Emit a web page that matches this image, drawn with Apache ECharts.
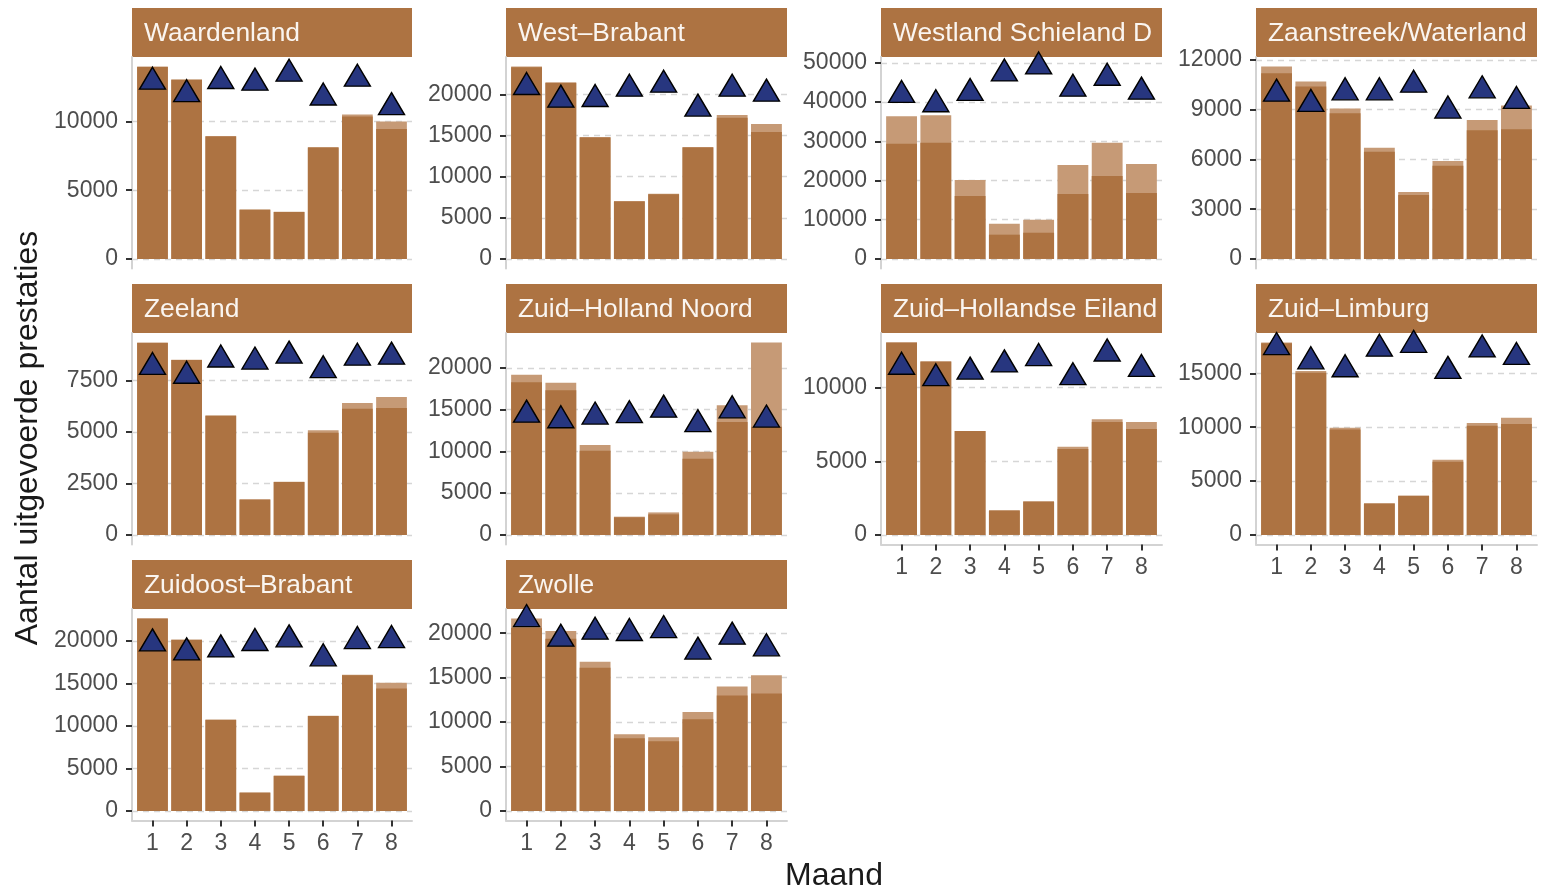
<!DOCTYPE html>
<html>
<head>
<meta charset="utf-8">
<script src="https://cdn.jsdelivr.net/npm/echarts@6/dist/echarts.min.js"></script>
<style>
  html, body { margin: 0; padding: 0; background: #ffffff; }
  #chart { width: 1546px; height: 894px; }
</style>
</head>
<body>
<div id="chart"></div>
<script>
// Maanden op de x-as
const maanden = [1, 2, 3, 4, 5, 6, 7, 8];

// Regio's (één paneel per regio)
const regios = [
  'Waardenland', 'West–Brabant', 'Westland Schieland Delfland', 'Zaanstreek/Waterland',
  'Zeeland', 'Zuid–Holland Noord', 'Zuid–Hollandse Eilanden', 'Zuid–Limburg',
  'Zuidoost–Brabant', 'Zwolle'
];

// Uitgevoerde prestaties (donkere balk)
const uitgevoerd = [
  [13980, 13040, 8920, 3570, 3420, 8100, 10360, 9450],
  [23300, 21400, 14780, 6980, 7870, 13550, 17170, 15430],
  [29360, 29610, 16070, 6180, 6680, 16580, 21150, 16840],
  [11200, 10400, 8780, 6460, 3860, 5620, 7760, 7820],
  [9330, 8500, 5790, 1720, 2570, 4970, 6130, 6170],
  [18260, 17310, 10060, 2100, 2460, 9110, 13500, 12950],
  [13060, 11770, 7060, 1660, 2270, 5840, 7660, 7190],
  [17800, 15060, 9780, 2920, 3620, 6790, 10140, 10300],
  [22620, 20120, 10720, 2150, 4100, 11150, 15960, 14400],
  [20600, 19360, 16120, 8170, 7840, 10300, 12980, 13210]
];

// Totaal inclusief nagekomen prestaties (lichte balk)
const totaal = [
  [14000, 13060, 8940, 3590, 3430, 8150, 10510, 10000],
  [23390, 21490, 14830, 7030, 7920, 13610, 17490, 16400],
  [36380, 36630, 20130, 8970, 9980, 23940, 29610, 24200],
  [11600, 10700, 9080, 6700, 4040, 5900, 8380, 9260],
  [9350, 8520, 5810, 1720, 2590, 5090, 6410, 6700],
  [19170, 18220, 10770, 2180, 2690, 9940, 15520, 23010],
  [13060, 11770, 7060, 1660, 2270, 5980, 7860, 7660],
  [17860, 15220, 9960, 2920, 3660, 6980, 10390, 10880],
  [22620, 20120, 10720, 2150, 4150, 11190, 16010, 15070],
  [21640, 20260, 16790, 8620, 8280, 11120, 13990, 15260]
];

// Referentiewaarden (driehoeken)
const referentie = [
  [12890, 11980, 12940, 12820, 13470, 11740, 13110, 11040],
  [20890, 19350, 19430, 20680, 21170, 18260, 20680, 20080],
  [41790, 39420, 42300, 47290, 49070, 43400, 46190, 42640],
  [9960, 9340, 10040, 10040, 10500, 8940, 10160, 9520],
  [8160, 7730, 8520, 8420, 8710, 8000, 8610, 8660],
  [14370, 13700, 14140, 14300, 14970, 13230, 14890, 13780],
  [11410, 10630, 11080, 11570, 12000, 10700, 12310, 11260],
  [17430, 16110, 15370, 17280, 17640, 15220, 17210, 16510],
  [19690, 18630, 18980, 19730, 20160, 17930, 19960, 20080],
  [21570, 19360, 20150, 20000, 20330, 17910, 19590, 18280]
];

// Stapgrootte van de y-as per paneel
const tickStap = [5000, 5000, 10000, 3000, 2500, 5000, 5000, 5000, 5000, 5000];

// ---- opmaak ----
const FONT = '"Liberation Sans", Arial, Helvetica, sans-serif';
const BRUIN = '#AD7342';
const LICHTBRUIN = '#C69A76';
const BLAUW = '#27367F';
const kolomLinks = [132, 506, 881, 1256];
const kolomBreedte = [280, 281, 281, 281];
const rijBoven = [8, 284, 560];
const stripHoogte = 49;
const paneelHoogte = 211.5;
const driehoekB = 26, driehoekH = 22;

const grids = [], xAxes = [], yAxes = [], series = [], graphics = [];

regios.forEach((naam, i) => {
  const rij = Math.floor(i / 4), kol = i % 4;
  const left = kolomLinks[kol], width = kolomBreedte[kol];
  const stripTop = rijBoven[rij];
  const top = stripTop + stripHoogte;
  const onderAs = i + 4 >= regios.length;

  grids.push({ left: left, top: top, width: width, height: paneelHoogte, containLabel: false });

  // ggplot-achtige uitbreiding: 5% boven en onder het databereik
  const M = Math.max(...totaal[i], ...referentie[i]);
  const ticks = [];
  for (let v = 0; v <= 1.05 * M; v += tickStap[i]) ticks.push(v);

  xAxes.push({
    gridIndex: i, type: 'value', min: 0.4, max: 8.6,
    axisLine: { show: onderAs, onZero: false, lineStyle: { color: '#D3D3D3', width: 2 } },
    axisTick: { show: onderAs, length: 6, customValues: maanden, lineStyle: { color: '#333333', width: 2 } },
    axisLabel: { show: onderAs, customValues: maanden, margin: 12, fontSize: 23, color: '#4D4D4D', fontFamily: FONT,
                 formatter: v => String(v) },
    splitLine: { show: false }
  });

  yAxes.push({
    gridIndex: i, type: 'value', min: -0.05 * M, max: 1.05 * M,
    axisLine: { show: true, onZero: false, lineStyle: { color: '#D3D3D3', width: 2 } },
    axisTick: { show: true, length: 6, customValues: ticks, lineStyle: { color: '#333333', width: 2 } },
    axisLabel: { show: true, customValues: ticks, margin: 14, fontSize: 23, color: '#4D4D4D', fontFamily: FONT,
                 formatter: v => String(v) },
    splitLine: { show: false }
  });

  const barW = width / 8.2 * 0.9;

  series.push({
    type: 'bar', xAxisIndex: i, yAxisIndex: i, z: 2,
    barWidth: barW, barGap: '-100%',
    itemStyle: { color: LICHTBRUIN },
    data: maanden.map((m, j) => [m, totaal[i][j]]),
    silent: true,
    markLine: {
      z: 1, silent: true, symbol: 'none',
      label: { show: false },
      lineStyle: { color: '#D6D6D6', type: [6, 5], width: 1.3 },
      emphasis: { disabled: true },
      data: ticks.map(v => ({ yAxis: v }))
    }
  });
  series.push({
    type: 'bar', xAxisIndex: i, yAxisIndex: i, z: 3,
    barWidth: barW, barGap: '-100%',
    itemStyle: { color: BRUIN },
    data: maanden.map((m, j) => [m, uitgevoerd[i][j]]),
    silent: true
  });
  series.push({
    type: 'scatter', xAxisIndex: i, yAxisIndex: i, z: 4, clip: false,
    symbol: 'triangle', symbolSize: [driehoekB, driehoekH],
    // zwaartepunt van de driehoek op de datawaarde
    symbolOffset: [0, -driehoekH / 6],
    itemStyle: { color: BLAUW, borderColor: '#000000', borderWidth: 1.4, opacity: 1 },
    data: maanden.map((m, j) => [m, referentie[i][j]]),
    silent: true
  });

  // strooklabel boven het paneel
  graphics.push({
    type: 'rect', z: 0,
    shape: { x: left, y: stripTop, width: width, height: stripHoogte },
    style: { fill: BRUIN }
  });
  graphics.push({
    type: 'text', z: 1,
    x: left + 12, y: stripTop + stripHoogte / 2 + 1.5,
    style: {
      text: naam, fill: '#FAF5F0', font: '26.4px ' + FONT,
      textVerticalAlign: 'middle', textAlign: 'left',
      width: width - 12, overflow: 'truncate', ellipsis: ''
    }
  });
});

// astitels
graphics.push({
  type: 'text', x: 28, y: 438, rotation: Math.PI / 2,
  style: { text: 'Aantal uitgevoerde prestaties', fill: '#1A1A1A', font: '32px ' + FONT,
           textAlign: 'center', textVerticalAlign: 'middle' }
});
graphics.push({
  type: 'text', x: 834, y: 876,
  style: { text: 'Maand', fill: '#1A1A1A', font: '32px ' + FONT,
           textAlign: 'center', textVerticalAlign: 'middle' }
});

const chart = echarts.init(document.getElementById('chart'), null, { renderer: 'canvas' });
chart.setOption({
  animation: false,
  backgroundColor: '#FFFFFF',
  grid: grids,
  xAxis: xAxes,
  yAxis: yAxes,
  series: series,
  graphic: { elements: graphics }
});
</script>
</body>
</html>
